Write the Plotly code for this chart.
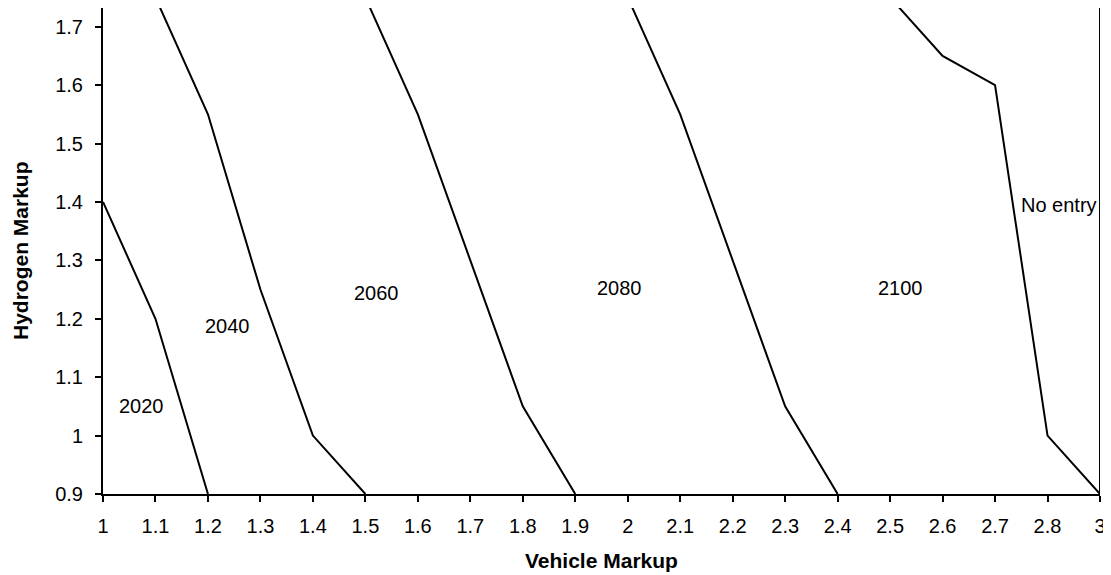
import numpy as np
import plotly.graph_objects as go

# Category axis (Excel-style): evenly spaced labels, 2.9 omitted
x_categories = [1.0, 1.1, 1.2, 1.3, 1.4, 1.5, 1.6, 1.7, 1.8, 1.9, 2.0,
                2.1, 2.2, 2.3, 2.4, 2.5, 2.6, 2.7, 2.8, 3.0]
x_ticktext = ["1", "1.1", "1.2", "1.3", "1.4", "1.5", "1.6", "1.7", "1.8", "1.9", "2",
              "2.1", "2.2", "2.3", "2.4", "2.5", "2.6", "2.7", "2.8", "3"]
y_tickvals = [0.9, 1.0, 1.1, 1.2, 1.3, 1.4, 1.5, 1.6, 1.7]
y_ticktext = ["0.9", "1", "1.1", "1.2", "1.3", "1.4", "1.5", "1.6", "1.7"]

# Boundary lines (vehicle markup, hydrogen markup)
b2020_x = [1.0, 1.1, 1.2]
b2020_y = [1.4, 1.2, 0.9]
b2040_x = [1.1, 1.2, 1.3, 1.4, 1.5]
b2040_y = [1.75, 1.55, 1.25, 1.0, 0.9]
b2060_x = [1.5, 1.6, 1.7, 1.8, 1.9]
b2060_y = [1.75, 1.55, 1.30, 1.05, 0.9]
b2080_x = [2.0, 2.1, 2.2, 2.3, 2.4]
b2080_y = [1.75, 1.55, 1.30, 1.05, 0.9]
b2100_x = [2.5, 2.6, 2.7, 2.8, 3.0]
b2100_y = [1.75, 1.65, 1.60, 1.0, 0.9]
bnoentry_x = [3.0, 3.0]
bnoentry_y = [0.9, 1.75]

region_labels = ["2020", "2040", "2060", "2080", "2100", "No entry"]
region_x = [1.074, 1.238, 1.522, 1.985, 2.52, 2.844]
region_y = [1.05, 1.187, 1.244, 1.253, 1.253, 1.394]

idx = np.arange(len(x_categories))


def pos(v):
    return np.interp(v, x_categories, idx)


FONT = "Liberation Sans, Arial, sans-serif"
fig = go.Figure()
for xs, ys in [(b2020_x, b2020_y), (b2040_x, b2040_y), (b2060_x, b2060_y),
               (b2080_x, b2080_y), (b2100_x, b2100_y), (bnoentry_x, bnoentry_y)]:
    fig.add_trace(go.Scatter(x=pos(xs), y=ys, mode="lines",
                             line=dict(color="black", width=2),
                             showlegend=False, hoverinfo="skip"))

for t, xv, yv in zip(region_labels, region_x, region_y):
    fig.add_annotation(x=float(pos(xv)), y=yv, text=t, showarrow=False,
                       xref="x", yref="y", xanchor="center", yanchor="middle",
                       font=dict(family=FONT, size=20, color="black"))

# Axis titles
fig.add_annotation(x=0.5, y=0, xref="paper", yref="paper", yshift=-66,
                   text="<b>Vehicle Markup</b>", showarrow=False,
                   xanchor="center", yanchor="middle",
                   font=dict(family=FONT, size=21, color="black"))
fig.add_annotation(x=0, y=0.5, xref="paper", yref="paper", xshift=-83,
                   text="<b>Hydrogen Markup</b>", showarrow=False, textangle=-90,
                   xanchor="center", yanchor="middle",
                   font=dict(family=FONT, size=21, color="black"))

# page body has an 8px margin, so the figure is sized/offset to compensate
fig.update_layout(
    width=1103, height=567,
    margin=dict(l=95, r=11, t=0, b=81),
    paper_bgcolor="white", plot_bgcolor="white",
    font=dict(family=FONT, color="black"),
)
fig.update_xaxes(
    range=[0, 19], tickmode="array", tickvals=list(idx), ticktext=x_ticktext,
    showgrid=False, zeroline=False, showline=True, linecolor="black", linewidth=2,
    ticks="outside", ticklen=6, tickwidth=1.5, tickcolor="black",
    ticklabelstandoff=7,
    tickfont=dict(family=FONT, size=20, color="black"),
)
fig.update_yaxes(
    range=[0.9, 1.732], tickmode="array", tickvals=y_tickvals, ticktext=y_ticktext,
    showgrid=False, zeroline=False, showline=True, linecolor="black", linewidth=2,
    ticks="outside", ticklen=6, tickwidth=1.5, tickcolor="black",
    ticklabelstandoff=8,
    tickfont=dict(family=FONT, size=20, color="black"),
)

fig.write_html("out.html")
